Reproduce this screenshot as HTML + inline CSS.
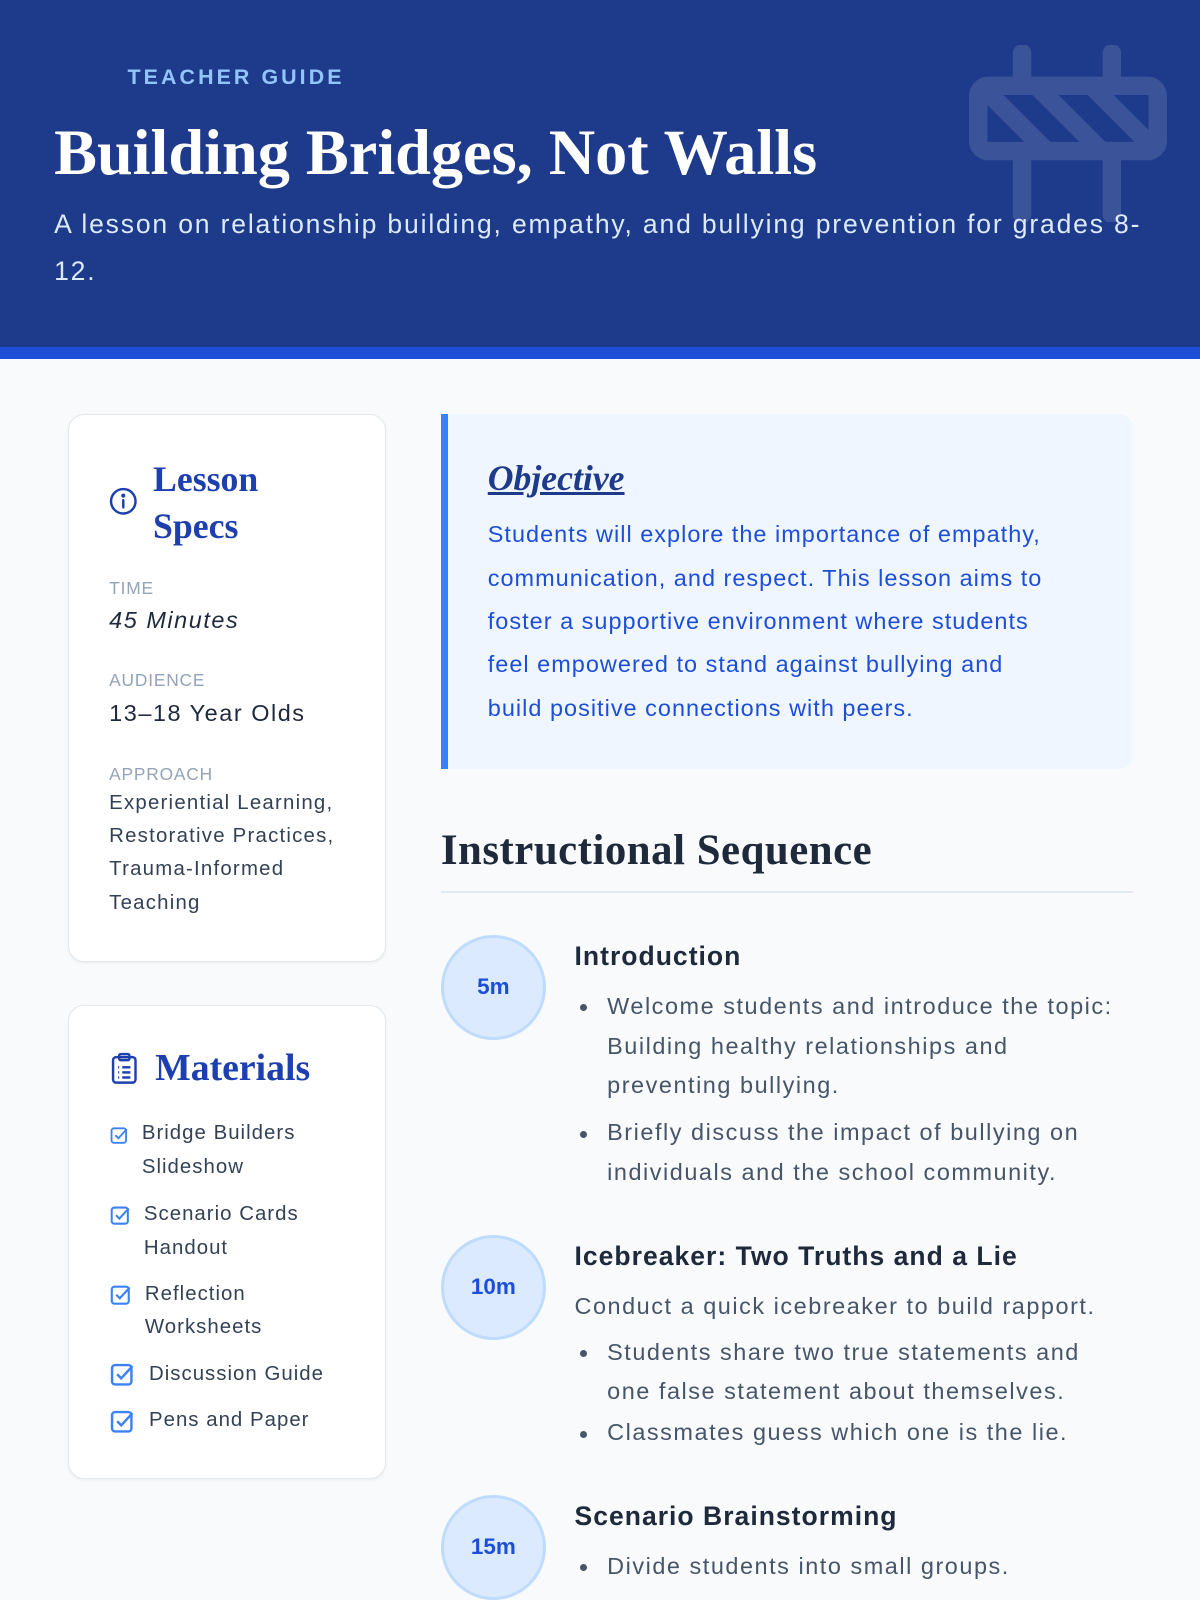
<!DOCTYPE html>
<html><head><meta charset="utf-8"><style>
html{zoom:1.0204}
*{margin:0;padding:0;box-sizing:border-box}
body{width:1176px;height:1568px;overflow:hidden;background:#f8fafc;font-family:"Liberation Sans",sans-serif;position:relative}
.a{position:absolute;white-space:nowrap}
.serif{font-family:"Liberation Serif",serif;font-weight:bold}
.hdr{position:absolute;left:0;top:0;width:1176px;height:340px;background:#1e3a8a}
.bar{position:absolute;left:0;top:340px;width:1176px;height:12px;background:#1d4ed8}
.card{position:absolute;left:67px;width:311px;background:#fff;border:1px solid #e2e8f0;border-radius:16px;box-shadow:0 1px 3px rgba(0,0,0,.05)}
.lbl{font-size:17px;color:#94a3b8;letter-spacing:.8px}
.val{font-size:23px;color:#1e293b;letter-spacing:1.5px}
.mi{font-size:20px;color:#334155;line-height:33px;letter-spacing:1px}
.circ{position:absolute;left:432px;width:103px;height:103px;border-radius:50%;background:#dbeafe;border:3px solid #bfdbfe;color:#1d4ed8;font-weight:bold;font-size:22px;display:flex;align-items:center;justify-content:center}
.st{font-size:26px;font-weight:bold;color:#1e293b;letter-spacing:1px}
.bt{font-size:23px;color:#475569;line-height:39px;letter-spacing:1.5px}
.dot{position:absolute;width:7px;height:7px;border-radius:50%;background:#475569}
</style></head><body>
<div class="hdr"></div><div class="bar"></div>
<svg class="a" style="left:950px;top:44px;opacity:0.13" width="194" height="174" viewBox="0 0 194 174" fill="none" stroke="#fff" stroke-width="18" stroke-linecap="round" stroke-linejoin="round">
<defs><clipPath id="c"><rect x="9" y="40" width="176" height="64"/></clipPath></defs>
<line x1="52" y1="8" x2="52" y2="40"/><line x1="140" y1="8" x2="140" y2="40"/>
<line x1="52" y1="104" x2="52" y2="166"/><line x1="140" y1="104" x2="140" y2="166"/>
<rect x="9" y="40" width="176" height="64" rx="10"/>
<g clip-path="url(#c)" stroke-linecap="butt"><line x1="0" y1="28" x2="88" y2="116"/><line x1="54" y1="28" x2="142" y2="116"/><line x1="108" y1="28" x2="196" y2="116"/></g>
</svg>
<div class="a" style="left:125px;top:64px;font-size:21px;letter-spacing:3px;color:#93c5fd;font-weight:bold">TEACHER GUIDE</div>
<div class="a serif" style="left:53px;top:114px;font-size:63px;color:#fff">Building Bridges, Not Walls</div>
<div class="a" style="left:53px;top:197px;font-size:26px;line-height:46px;color:#dbeafe;letter-spacing:1.8px">A lesson on relationship building, empathy, and bullying prevention for grades 8-<br>12.</div>

<div class="card" style="top:406px;height:537px"></div>
<svg class="a" style="left:107px;top:477px" width="28" height="28" viewBox="0 0 28 28" fill="none" stroke="#1e40af" stroke-width="2.4"><circle cx="14" cy="14" r="12"/><line x1="14" y1="13" x2="14" y2="20" stroke-linecap="round"/><circle cx="14" cy="8.5" r="0.8" fill="#1e40af"/></svg>
<div class="a serif" style="left:150px;top:447px;font-size:35px;line-height:46px;color:#1e40af">Lesson<br>Specs</div>
<div class="a lbl" style="left:107px;top:566px">TIME</div>
<div class="a val" style="left:107px;top:595px;font-style:italic">45 Minutes</div>
<div class="a lbl" style="left:107px;top:657px">AUDIENCE</div>
<div class="a val" style="left:107px;top:686px">13–18 Year Olds</div>
<div class="a lbl" style="left:107px;top:749px">APPROACH</div>
<div class="a" style="left:107px;top:771px;font-size:20px;line-height:32.7px;color:#334155;letter-spacing:1.2px">Experiential Learning,<br>Restorative Practices,<br>Trauma-Informed<br>Teaching</div>

<div class="card" style="top:985px;height:464px"></div>
<svg class="a" style="left:108px;top:1031px" width="28" height="32" viewBox="0 0 28 32" fill="none" stroke="#1e40af" stroke-width="2.4" stroke-linejoin="round"><rect x="3" y="5" width="22" height="25" rx="3"/><rect x="9" y="2" width="10" height="6" rx="1.5"/><line x1="8" y1="15" x2="9" y2="15"/><line x1="12" y1="15" x2="20" y2="15"/><line x1="8" y1="20" x2="9" y2="20"/><line x1="12" y1="20" x2="20" y2="20"/><line x1="8" y1="25" x2="9" y2="25"/><line x1="12" y1="25" x2="20" y2="25"/></svg>
<div class="a serif" style="left:152px;top:1025px;font-size:37px;color:#1e40af">Materials</div>
<svg class="a" style="left:108px;top:1103px" width="18" height="18" viewBox="0 0 24 24" fill="none" stroke="#3b82f6" stroke-width="2.4"><rect x="2" y="3" width="19" height="19" rx="3"/><polyline points="7,12 11,16 22,4"/></svg>
<div class="a mi" style="left:139px;top:1095px">Bridge Builders<br>Slideshow</div>
<svg class="a" style="left:108px;top:1181px" width="20" height="20" viewBox="0 0 24 24" fill="none" stroke="#3b82f6" stroke-width="2.4"><rect x="2" y="3" width="19" height="19" rx="3"/><polyline points="7,12 11,16 22,4"/></svg>
<div class="a mi" style="left:141px;top:1174px">Scenario Cards<br>Handout</div>
<svg class="a" style="left:108px;top:1258px" width="21" height="21" viewBox="0 0 24 24" fill="none" stroke="#3b82f6" stroke-width="2.4"><rect x="2" y="3" width="19" height="19" rx="3"/><polyline points="7,12 11,16 22,4"/></svg>
<div class="a mi" style="left:142px;top:1252px">Reflection<br>Worksheets</div>
<svg class="a" style="left:108px;top:1335px" width="24" height="24" viewBox="0 0 24 24" fill="none" stroke="#3b82f6" stroke-width="2.4"><rect x="2" y="3" width="19" height="19" rx="3"/><polyline points="7,12 11,16 22,4"/></svg>
<div class="a mi" style="left:146px;top:1331px">Discussion Guide</div>
<svg class="a" style="left:108px;top:1381px" width="24" height="24" viewBox="0 0 24 24" fill="none" stroke="#3b82f6" stroke-width="2.4"><rect x="2" y="3" width="19" height="19" rx="3"/><polyline points="7,12 11,16 22,4"/></svg>
<div class="a mi" style="left:146px;top:1376px">Pens and Paper</div>

<div class="a" style="left:432px;top:406px;width:678px;height:348px;background:#eff6ff;border-left:7px solid #3b82f6;border-radius:0 14px 14px 0"></div>
<div class="a serif" style="left:478px;top:448px;font-size:35px;font-style:italic;text-decoration:underline;color:#1e3a8a">Objective</div>
<div class="a" style="left:478px;top:503px;font-size:23px;line-height:42.5px;color:#1d4ed8;letter-spacing:1px">Students will explore the importance of empathy,<br>communication, and respect. This lesson aims to<br>foster a supportive environment where students<br>feel empowered to stand against bullying and<br>build positive connections with peers.</div>

<div class="a serif" style="left:432px;top:809px;font-size:42px;color:#1e293b;letter-spacing:0.5px">Instructional Sequence</div>
<div class="a" style="left:432px;top:873px;width:678px;height:2px;background:#e2e8f0"></div>

<div class="circ" style="top:916px">5m</div>
<div class="a st" style="left:563px;top:922px">Introduction</div>
<div class="dot" style="left:568px;top:984px"></div><div class="dot" style="left:568px;top:1108px"></div>
<div class="a bt" style="left:595px;top:967px">Welcome students and introduce the topic:<br>Building healthy relationships and<br>preventing bullying.</div>
<div class="a bt" style="left:595px;top:1091px">Briefly discuss the impact of bullying on<br>individuals and the school community.</div>

<div class="circ" style="top:1210px">10m</div>
<div class="a st" style="left:563px;top:1216px">Icebreaker: Two Truths and a Lie</div>
<div class="a bt" style="left:563px;top:1261px">Conduct a quick icebreaker to build rapport.</div>
<div class="dot" style="left:568px;top:1323px"></div><div class="dot" style="left:568px;top:1402px"></div>
<div class="a bt" style="left:595px;top:1306px">Students share two true statements and<br>one false statement about themselves.</div>
<div class="a bt" style="left:595px;top:1385px">Classmates guess which one is the lie.</div>

<div class="circ" style="top:1465px">15m</div>
<div class="a st" style="left:563px;top:1471px">Scenario Brainstorming</div>
<div class="dot" style="left:568px;top:1533px"></div>
<div class="a bt" style="left:595px;top:1516px">Divide students into small groups.</div>
</body></html>
